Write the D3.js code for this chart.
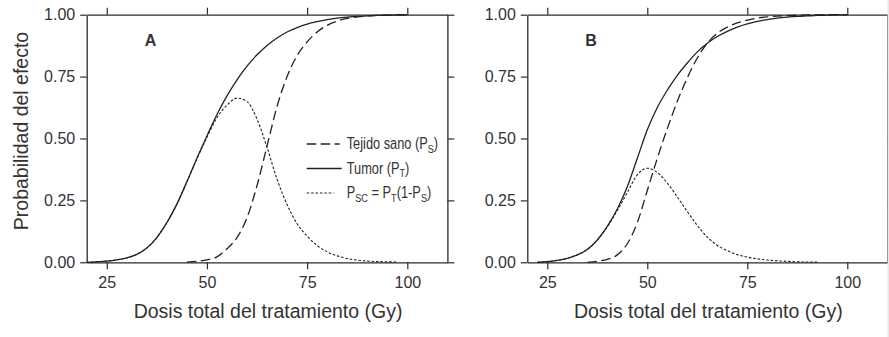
<!DOCTYPE html>
<html>
<head>
<meta charset="utf-8">
<script src="https://cdn.jsdelivr.net/npm/d3@7"></script>
<style>
  html, body { margin: 0; padding: 0; background: #fff; }
  svg { display: block; }
  text { font-family: "Liberation Sans", Arial, sans-serif; fill: #333; }
</style>
</head>
<body>
<svg id="chart" width="889" height="337"></svg>
<script>
// Dose grid (Gy) shared by every curve
const doses = [20, 22.5, 25, 27.5, 30, 32.5, 35, 37.5, 40, 42.5, 45, 47.5, 50, 52.5, 55, 57.5,
  60, 62.5, 65, 67.5, 70, 72.5, 75, 77.5, 80, 82.5, 85, 87.5, 90, 92.5, 95, 97.5, 100];

// Panel A
const tumorA = [0.000, 0.002, 0.005, 0.010, 0.018, 0.032, 0.058, 0.100, 0.160, 0.235, 0.325, 0.420, 0.510, 0.597, 0.672, 0.737,
  0.792, 0.838, 0.876, 0.906, 0.930, 0.948, 0.962, 0.972, 0.980, 0.986, 0.990, 0.993, 0.995, 0.997, 0.998, 0.999, 0.999];
const sanoA = [null, null, null, null, null, null, null, null, null, null, 0.001, 0.004, 0.010, 0.022, 0.055, 0.100,
  0.180, 0.310, 0.470, 0.630, 0.750, 0.835, 0.890, 0.930, 0.957, 0.974, 0.985, 0.991, 0.995, 0.997, 0.998, 0.999, 1.000];
const pscA = [0.000, 0.002, 0.005, 0.010, 0.018, 0.032, 0.058, 0.100, 0.160, 0.235, 0.325, 0.418, 0.505, 0.584, 0.635, 0.663,
  0.649, 0.578, 0.464, 0.335, 0.233, 0.156, 0.106, 0.068, 0.042, 0.026, 0.015, 0.009, 0.005, 0.003, 0.002, 0.001, null];

// Panel B
const tumorB = [null, 0.000, 0.003, 0.008, 0.016, 0.030, 0.052, 0.090, 0.145, 0.215, 0.305, 0.420, 0.535, 0.625, 0.695, 0.755,
  0.805, 0.850, 0.885, 0.912, 0.933, 0.950, 0.963, 0.973, 0.980, 0.986, 0.990, 0.993, 0.995, 0.997, 0.998, 0.999, 0.999];
const sanoB = [null, null, null, null, null, null, 0.000, 0.004, 0.012, 0.030, 0.075, 0.160, 0.290, 0.420, 0.540, 0.650,
  0.745, 0.825, 0.885, 0.925, 0.950, 0.967, 0.978, 0.986, 0.991, 0.994, 0.996, 0.998, 0.999, 0.999, 1.000, 1.000, 1.000];
const pscB = [null, 0.000, 0.003, 0.008, 0.016, 0.030, 0.052, 0.090, 0.143, 0.209, 0.282, 0.353, 0.380, 0.363, 0.320, 0.264,
  0.205, 0.149, 0.102, 0.068, 0.047, 0.031, 0.021, 0.014, 0.009, 0.006, 0.004, 0.002, 0.001, 0.001, null, null, null];

// Axis ticks
const xTicks = [25, 50, 75, 100];
const yTicks = [0, 0.25, 0.5, 0.75, 1];
const xDomain = [20, 110];

const panelLabels = ["A", "B"];
const xTitle = "Dosis total del tratamiento (Gy)";
const yTitle = "Probabilidad del efecto";

const svg = d3.select("#chart");
const ink = "#2b2b2b";

const panels = [
  { label: panelLabels[0], left: 86.7, right: 447.4, tumor: tumorA, sano: sanoA, psc: pscA, legend: true, yTitle: true },
  { label: panelLabels[1], left: 527.3, right: 887.3, tumor: tumorB, sano: sanoB, psc: pscB, legend: false, yTitle: false }
];
const plotTop = 14.7, plotBottom = 262.3;

const styles = {
  sano: { dash: "9.5,4.5" },
  tumor: { dash: null },
  psc: { dash: "2.6,1.8" }
};

panels.forEach(p => {
  const x = d3.scaleLinear().domain(xDomain).range([p.left, p.right]);
  const y = d3.scaleLinear().domain([0, 1]).range([plotBottom, plotTop]);
  const g = svg.append("g");

  // Axes: outward ticks on all four sides
  const styleAxis = sel => {
    sel.attr("font-family", null);
    sel.select(".domain").attr("stroke", ink).attr("stroke-width", 1.3);
    sel.selectAll(".tick line").attr("stroke", ink).attr("stroke-width", 1.2);
    sel.selectAll(".tick text").attr("fill", "#333").style("font-size", "16px")
      .style("font-family", '"Liberation Sans", Arial, sans-serif');
  };
  g.append("g").attr("transform", `translate(0,${plotBottom})`)
    .call(d3.axisBottom(x).tickValues(xTicks).tickSize(7).tickPadding(7).tickSizeOuter(0))
    .call(styleAxis);
  g.append("g").attr("transform", `translate(0,${plotTop})`)
    .call(d3.axisTop(x).tickValues(xTicks).tickSize(7).tickFormat("").tickSizeOuter(0))
    .call(styleAxis);
  g.append("g").attr("transform", `translate(${p.left},0)`)
    .call(d3.axisLeft(y).tickValues(yTicks).tickSize(6.5).tickPadding(5).tickFormat(d3.format(".2f")).tickSizeOuter(0))
    .call(styleAxis);
  g.append("g").attr("transform", `translate(${p.right},0)`)
    .call(d3.axisRight(y).tickValues(yTicks).tickSize(7).tickFormat("").tickSizeOuter(0))
    .call(styleAxis);

  // Curves
  const mk = arr => doses.map((d, i) => ({ d, v: arr[i] }));
  const line = d3.line().defined(e => e.v !== null)
    .x(e => x(e.d)).y(e => y(e.v)).curve(d3.curveMonotoneX);
  [["psc", p.psc], ["sano", p.sano], ["tumor", p.tumor]].forEach(([k, arr]) => {
    g.append("path").datum(mk(arr))
      .attr("d", line).attr("fill", "none").attr("stroke", "#222")
      .attr("stroke-width", k === "psc" ? 1.1 : 1.3)
      .attr("stroke-dasharray", styles[k].dash);
  });

  // Panel letter
  g.append("text").attr("x", p.left + 58).attr("y", plotTop + 31)
    .style("font-size", "16px").style("font-weight", "bold").attr("fill", "#222").text(p.label);

  // X title
  g.append("text").attr("x", (p.left + p.right) / 2 + 1).attr("y", 318)
    .attr("text-anchor", "middle").style("font-size", "19.5px").attr("fill", "#333").text(xTitle);

  if (p.yTitle) {
    g.append("text").attr("transform", `translate(28,${131}) rotate(-90)`)
      .attr("text-anchor", "middle").style("font-size", "19.5px").attr("fill", "#333").text(yTitle);
  }

  if (p.legend) {
    const lx0 = p.left + 220, tx = p.left + 260;
    const rows = [
      { key: "sano", y: 144, parts: [["Tejido sano (P", 0], ["S", 1], [")", 0]], len: 33 },
      { key: "tumor", y: 168.5, parts: [["Tumor (P", 0], ["T", 1], [")", 0]], len: 35 },
      { key: "psc", y: 193, parts: [["P", 0], ["SC", 1], [" = P", 0], ["T", 1], ["(1-P", 0], ["S", 1], [")", 0]], len: 27 }
    ];
    rows.forEach(r => {
      g.append("line").attr("x1", lx0).attr("x2", lx0 + r.len).attr("y1", r.y).attr("y2", r.y)
        .attr("stroke", "#222").attr("stroke-width", r.key === "psc" ? 1.1 : 1.3)
        .attr("stroke-dasharray", styles[r.key].dash);
      const t = g.append("g").attr("transform", `translate(${tx},${r.y + 5}) scale(0.8,1)`)
        .append("text").style("font-size", "16px").attr("fill", "#333");
      r.parts.forEach(([s, sub], i) => {
        const prevSub = i > 0 && r.parts[i - 1][1] === 1;
        const ts = t.append("tspan").text(s);
        if (sub) ts.style("font-size", "11.5px").attr("dy", 3.5);
        else ts.attr("dy", prevSub ? -3.5 : 0);
      });
    });
  }
});

// Light page edge along the right border
svg.append("rect").attr("x", 887.5).attr("y", 0).attr("width", 2).attr("height", 337).attr("fill", "#e8e8e8");
</script>
</body>
</html>
